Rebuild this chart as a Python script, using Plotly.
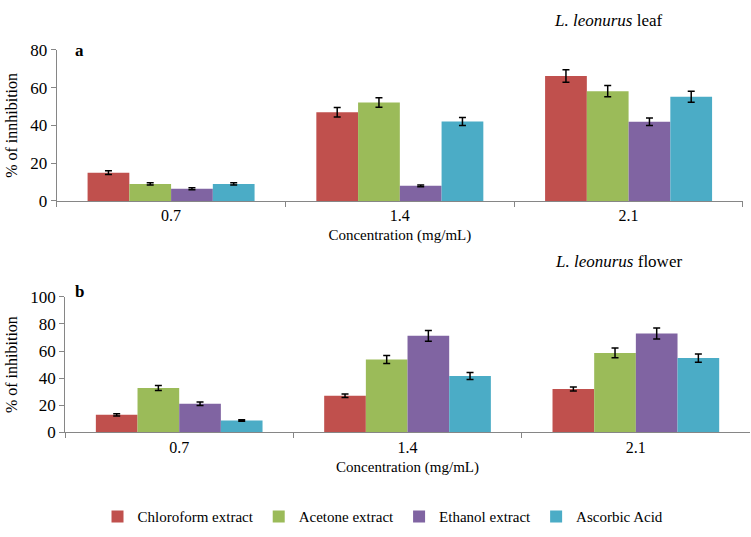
import plotly.graph_objects as go

categories = ["0.7", "1.4", "2.1"]
series_names = ["Chloroform extract", "Acetone extract", "Ethanol extract", "Ascorbic Acid"]
colors = ["#C0504D", "#9BBB59", "#8064A2", "#4BACC6"]

# Panel a: L. leonurus leaf
leaf_values = [
    [15.0, 47.0, 66.2],
    [9.0, 52.1, 58.1],
    [6.5, 8.0, 41.9],
    [9.0, 42.1, 55.2],
]
leaf_errors = [
    [1.0, 2.5, 3.3],
    [0.6, 2.5, 3.0],
    [0.5, 0.5, 2.0],
    [0.6, 2.1, 2.9],
]

# Panel b: L. leonurus flower
flower_values = [
    [13.0, 27.0, 32.0],
    [32.8, 53.8, 58.6],
    [21.2, 71.2, 72.9],
    [8.8, 41.6, 54.8],
]
flower_errors = [
    [0.8, 1.3, 1.5],
    [1.8, 3.0, 3.6],
    [1.3, 3.9, 4.1],
    [0.5, 2.6, 3.0],
]

FONT = "Liberation Serif, 'Times New Roman', Times, serif"
fig = go.Figure()

for i, name in enumerate(series_names):
    fig.add_trace(go.Bar(
        x=categories, y=leaf_values[i], name=name, marker_color=colors[i],
        marker_line_width=0,
        error_y=dict(type="data", array=leaf_errors[i], color="black", thickness=1.5, width=3.5),
        xaxis="x", yaxis="y", showlegend=True, legendgroup=name,
    ))
for i, name in enumerate(series_names):
    fig.add_trace(go.Bar(
        x=categories, y=flower_values[i], name=name, marker_color=colors[i],
        marker_line_width=0,
        error_y=dict(type="data", array=flower_errors[i], color="black", thickness=1.5, width=3.5),
        xaxis="x2", yaxis="y2", showlegend=False, legendgroup=name,
    ))

axis_color = "#868686"
common_x = dict(type="category", showline=True, linecolor=axis_color, linewidth=1,
                ticks="outside", tickson="boundaries", ticklen=5, tickcolor=axis_color,
                showgrid=False, zeroline=False,
                tickfont=dict(family=FONT, size=16, color="black"))
common_y = dict(showline=True, linecolor=axis_color, linewidth=1, ticks="outside",
                ticklen=5, tickcolor=axis_color, showgrid=False, zeroline=False,
                tickfont=dict(family=FONT, size=17, color="black"))

xtitle_font = dict(family=FONT, size=15, color="black")
ytitle_font = dict(family=FONT, size=16, color="black")

fig.update_layout(
    width=751, height=537,
    margin=dict(l=0, r=0, t=0, b=0),
    paper_bgcolor="white", plot_bgcolor="white",
    barmode="group", bargap=0.27, bargroupgap=0,
    font=dict(family=FONT, color="black"),
    xaxis=dict(domain=[0.0755, 0.9893], anchor="y",
               title=dict(text="Concentration (mg/mL)", standoff=6, font=xtitle_font), **common_x),
    yaxis=dict(domain=[0.6294, 0.9212], anchor="x", range=[0, 80], dtick=20,
               title=dict(text="% of innhibition", standoff=8, font=ytitle_font), **common_y),
    xaxis2=dict(domain=[0.0866, 0.9987], anchor="y2",
                title=dict(text="Concentration (mg/mL)", standoff=6, font=xtitle_font), **common_x),
    yaxis2=dict(domain=[0.1825, 0.4445], anchor="x2", range=[0, 100], dtick=20,
                title=dict(text="% of inhibition", standoff=8, font=ytitle_font), **common_y),
    legend=dict(orientation="h", x=0.51, xanchor="center", y=0.02, yanchor="middle",
                font=dict(family=FONT, size=15, color="black"), itemwidth=30,
                traceorder="normal"),
    annotations=[
        dict(text="<i>L. leonurus</i> leaf", x=608/751, y=1-12/537, xref="paper", yref="paper",
             showarrow=False, xanchor="center", yanchor="middle",
             font=dict(family=FONT, size=17, color="black")),
        dict(text="<i>L. leonurus</i> flower", x=618/751, y=1-262/537, xref="paper", yref="paper",
             showarrow=False, xanchor="center", yanchor="middle",
             font=dict(family=FONT, size=17, color="black")),
        dict(text="<b>a</b>", x=73/751, y=1-43/537, xref="paper", yref="paper",
             showarrow=False, xanchor="left", yanchor="middle",
             font=dict(family=FONT, size=17, color="black")),
        dict(text="<b>b</b>", x=73/751, y=1-293/537, xref="paper", yref="paper",
             showarrow=False, xanchor="left", yanchor="middle",
             font=dict(family=FONT, size=17, color="black")),
    ],
)

fig.write_html("out.html", config={"displayModeBar": False},
               post_script="document.body.style.margin='0';")
